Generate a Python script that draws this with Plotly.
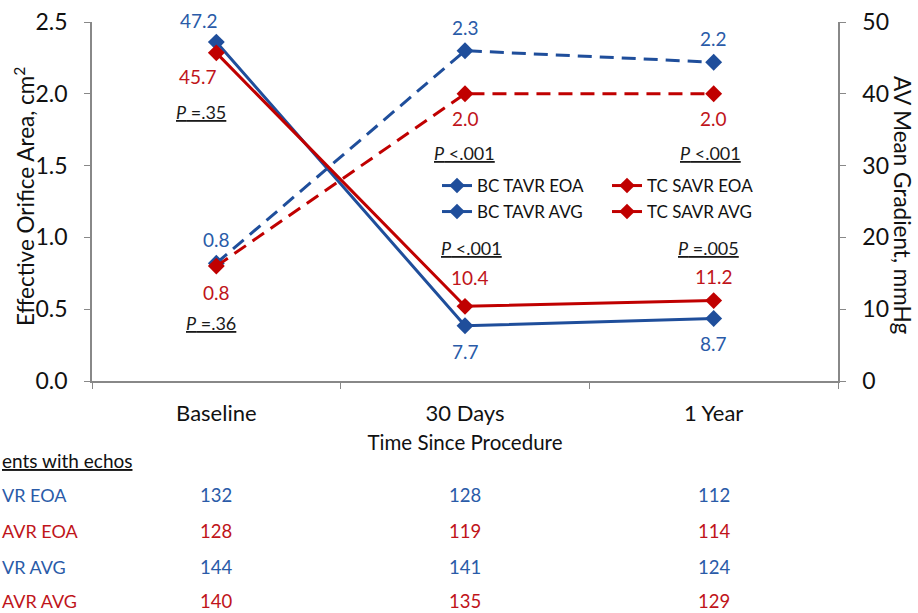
import plotly.graph_objects as go

categories = ["Baseline", "30 Days", "1 Year"]
bc_eoa = [0.82, 2.3, 2.22]
tc_eoa = [0.8, 2.0, 2.0]
bc_avg = [47.2, 7.7, 8.7]
tc_avg = [45.7, 10.4, 11.2]

bc_eoa_lbl = ["0.8", "2.3", "2.2"]
tc_eoa_lbl = ["0.8", "2.0", "2.0"]
bc_avg_lbl = ["47.2", "7.7", "8.7"]
tc_avg_lbl = ["45.7", "10.4", "11.2"]

p_eoa = ["=.36", "<.001", "<.001"]
p_avg = ["=.35", "<.001", "=.005"]

legend_names = ["BC TAVR EOA", "TC SAVR EOA", "BC TAVR AVG", "TC SAVR AVG"]
# row labels as visible at the left edge of the reference (cut off there)
table_header = "ents with echos"
row_names = ["VR EOA", "AVR EOA", "VR AVG", "AVR AVG"]
n_bc_eoa = [132, 128, 112]
n_tc_eoa = [128, 119, 114]
n_bc_avg = [144, 141, 124]
n_tc_avg = [140, 135, 129]

BLUE = "#1F4E9B"
BLUE_T = "#2A5BA8"
RED = "#C00000"
RED_T = "#C0141A"
FONT = "Lato"
AX = "#888888"
TXT = "#111111"

fig = go.Figure()
dash = "14px,8px"
fig.add_trace(go.Scatter(x=categories, y=bc_eoa, mode="lines+markers", yaxis="y",
                         line=dict(color=BLUE, width=3, dash=dash),
                         marker=dict(symbol="diamond", size=13, color=BLUE), showlegend=False))
fig.add_trace(go.Scatter(x=categories, y=tc_eoa, mode="lines+markers", yaxis="y",
                         line=dict(color=RED, width=3, dash=dash),
                         marker=dict(symbol="diamond", size=13, color=RED), showlegend=False))
fig.add_trace(go.Scatter(x=categories, y=bc_avg, mode="lines+markers", yaxis="y2",
                         line=dict(color=BLUE, width=3),
                         marker=dict(symbol="diamond", size=13, color=BLUE), showlegend=False))
fig.add_trace(go.Scatter(x=categories, y=tc_avg, mode="lines+markers", yaxis="y2",
                         line=dict(color=RED, width=3),
                         marker=dict(symbol="diamond", size=13, color=RED), showlegend=False))

leg_colors = [BLUE, RED, BLUE, RED]
leg_ids = ["legend", "legend2", "legend3", "legend4"]
for name, col, lid in zip(legend_names, leg_colors, leg_ids):
    fig.add_trace(go.Scatter(x=[None], y=[None], mode="lines+markers", name=name,
                             line=dict(color=col, width=3),
                             marker=dict(symbol="diamond", size=12, color=col),
                             legend=lid, showlegend=True))

ann = []
def lab(x, y, text, color, shift, xshift, yref, size=19):
    ann.append(dict(x=x, y=y, xref="x", yref=yref, text=text, showarrow=False,
                    yshift=shift, xshift=xshift, font=dict(family=FONT, size=size, color=color)))

eoa_blue_shift = [24, 23, 24]
eoa_red_shift = [-26, -25, -25]
p_eoa_shift = [-57, -59, -59]
p_eoa_x = [-5, -1, -3]
avg_blue_shift = [22, -26, -25]
avg_blue_x = [-17, 0, 0]
avg_red_shift = [-24, 29, 24]
avg_red_x = [-18, 5, 0]
p_avg_shift = [-59, 58, 53]
p_avg_x = [-15, 6, -5]

for i, c in enumerate(categories):
    lab(c, bc_eoa[i], bc_eoa_lbl[i], BLUE_T, eoa_blue_shift[i], 0, "y")
    lab(c, tc_eoa[i], tc_eoa_lbl[i], RED_T, eoa_red_shift[i], 0, "y")
    lab(c, tc_eoa[i], "<u><i>P</i> " + p_eoa[i] + "</u>", "#1a1a1a", p_eoa_shift[i], p_eoa_x[i], "y", 18)
    lab(c, bc_avg[i], bc_avg_lbl[i], BLUE_T, avg_blue_shift[i], avg_blue_x[i], "y2")
    lab(c, tc_avg[i], tc_avg_lbl[i], RED_T, avg_red_shift[i], avg_red_x[i], "y2")
    lab(c, tc_avg[i], "<u><i>P</i> " + p_avg[i] + "</u>", "#1a1a1a", p_avg_shift[i], p_avg_x[i], "y2", 18)

def px_x(p):
    return (p - 92) / 746

def px_y(p):
    return (381 - p) / 359

# axis titles as rotated annotations
ann.append(dict(x=px_x(24), y=px_y(197), xref="paper", yref="paper", xanchor="center",
                yanchor="middle", text="Effective Orifice Area, cm<sup>2</sup>",
                textangle=-90, showarrow=False, font=dict(family=FONT, size=22.5, color=TXT)))
ann.append(dict(x=px_x(903), y=px_y(205), xref="paper", yref="paper", xanchor="center",
                yanchor="middle", text="AV Mean Gradient, mmHg",
                textangle=90, showarrow=False, font=dict(family=FONT, size=22.5, color=TXT)))

ann.append(dict(x=px_x(0), y=px_y(460), xref="paper", yref="paper",
                xanchor="left", yanchor="middle", text="<u>" + table_header + "</u>",
                showarrow=False, font=dict(family=FONT, size=19, color=TXT)))
row_y = [495, 531, 567, 601]
row_cols = [BLUE_T, RED_T, BLUE_T, RED_T]
row_vals = [n_bc_eoa, n_tc_eoa, n_bc_avg, n_tc_avg]
for name, py, col, vals in zip(row_names, row_y, row_cols, row_vals):
    ann.append(dict(x=px_x(0), y=px_y(py), xref="paper", yref="paper",
                    xanchor="left", yanchor="middle", text=name, showarrow=False,
                    font=dict(family=FONT, size=18, color=col)))
    for c, v in zip(categories, vals):
        ann.append(dict(x=c, y=px_y(py), xref="x", yref="paper", text=str(v),
                        xanchor="center", yanchor="middle",
                        showarrow=False, font=dict(family=FONT, size=18.5, color=col)))

def legend_at(px, py):
    return dict(x=px_x(px), y=px_y(py), xanchor="left", yanchor="middle",
                bgcolor="rgba(0,0,0,0)", font=dict(family=FONT, size=17, color=TXT),
                itemwidth=30)

fig.update_layout(
    width=918, height=613,
    margin=dict(l=92, r=80, t=22, b=232, autoexpand=False),
    plot_bgcolor="white", paper_bgcolor="white",
    font=dict(family=FONT, color=TXT),
    xaxis=dict(type="category", range=[-0.5, 2.5], showgrid=False, showline=True, automargin=False,
               linecolor=AX, linewidth=1.5, ticks="outside", tickson="boundaries",
               ticklen=6, tickcolor=AX, ticklabelstandoff=12,
               tickfont=dict(family=FONT, size=22, color=TXT),
               title=dict(text="Time Since Procedure", standoff=10,
                          font=dict(family=FONT, size=20.5, color=TXT))),
    yaxis=dict(range=[0, 2.5], dtick=0.5, tickformat=".1f", showgrid=False, zeroline=False,
               automargin=False,
               showline=True, linecolor=AX, linewidth=1.5, ticks="outside", ticklen=6,
               tickcolor=AX, ticklabelstandoff=12, tickfont=dict(family=FONT, size=23, color=TXT)),
    yaxis2=dict(range=[0, 50], dtick=10, overlaying="y", side="right", showgrid=False,
                automargin=False,
                zeroline=False, showline=True, linecolor=AX, linewidth=1.5, ticks="outside",
                ticklen=6, tickcolor=AX, ticklabelstandoff=12,
                tickfont=dict(family=FONT, size=23, color=TXT)),
    legend=legend_at(437, 186),
    legend2=legend_at(607, 186),
    legend3=legend_at(437, 212),
    legend4=legend_at(607, 212),
    annotations=ann,
)

fig.write_html("out.html", config={"displayModeBar": False},
               post_script="document.body.style.margin='0';document.body.style.overflow='hidden';")
